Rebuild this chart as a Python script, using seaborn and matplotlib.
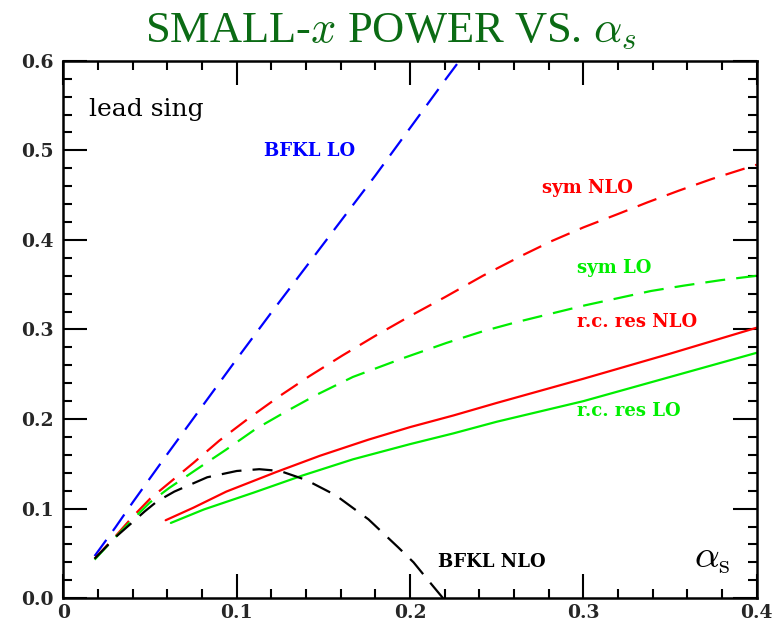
import numpy as np
import pandas as pd
import matplotlib
matplotlib.use("Agg")
import matplotlib.pyplot as plt
from matplotlib.ticker import MultipleLocator
import seaborn as sns

# データ
bfkl_lo_x = [0.018, 0.03, 0.04, 0.06, 0.08, 0.1, 0.12, 0.14, 0.16, 0.18, 0.2, 0.22, 0.23]
bfkl_lo_y = [0.047, 0.079, 0.107, 0.161, 0.214, 0.267, 0.319, 0.37, 0.421, 0.472, 0.525, 0.578, 0.604]

sym_nlo_x = [0.018, 0.03, 0.04, 0.05, 0.06, 0.075, 0.09, 0.107, 0.125, 0.142, 0.161, 0.18,
             0.2, 0.22, 0.242, 0.265, 0.282, 0.3, 0.32, 0.337, 0.355, 0.374, 0.4]
sym_nlo_y = [0.044, 0.069, 0.091, 0.111, 0.127, 0.151, 0.176, 0.201, 0.226, 0.248, 0.271, 0.293,
             0.315, 0.336, 0.36, 0.383, 0.399, 0.414, 0.429, 0.442, 0.455, 0.468, 0.484]

sym_lo_x = [0.018, 0.03, 0.04, 0.05, 0.061, 0.077, 0.094, 0.111, 0.129, 0.146, 0.167, 0.196,
            0.221, 0.242, 0.261, 0.282, 0.301, 0.32, 0.339, 0.358, 0.379, 0.4]
sym_lo_y = [0.043, 0.068, 0.088, 0.107, 0.123, 0.144, 0.166, 0.189, 0.209, 0.227, 0.247, 0.268,
            0.285, 0.298, 0.308, 0.318, 0.327, 0.335, 0.343, 0.349, 0.355, 0.36]

rc_nlo_x = [0.059, 0.075, 0.094, 0.123, 0.148, 0.176, 0.2, 0.225, 0.25, 0.3, 0.35, 0.4]
rc_nlo_y = [0.087, 0.101, 0.119, 0.141, 0.159, 0.177, 0.191, 0.204, 0.218, 0.245, 0.273, 0.302]

rc_lo_x = [0.062, 0.081, 0.11, 0.138, 0.167, 0.2, 0.225, 0.25, 0.3, 0.35, 0.4]
rc_lo_y = [0.084, 0.099, 0.118, 0.137, 0.155, 0.172, 0.184, 0.197, 0.22, 0.247, 0.274]

bfkl_nlo_x = [0.018, 0.03, 0.04, 0.047, 0.054, 0.064, 0.083, 0.1, 0.113, 0.125, 0.14, 0.157,
              0.176, 0.193, 0.202, 0.21, 0.219]
bfkl_nlo_y = [0.044, 0.068, 0.085, 0.097, 0.108, 0.119, 0.135, 0.142, 0.144, 0.142, 0.132, 0.115,
              0.088, 0.057, 0.04, 0.021, 0.0]

x_ticks = [0, 0.1, 0.2, 0.3, 0.4]
x_labels = ["0", "0.1", "0.2", "0.3", "0.4"]
y_ticks = [0, 0.1, 0.2, 0.3, 0.4, 0.5, 0.6]
y_labels = ["0.0", "0.1", "0.2", "0.3", "0.4", "0.5", "0.6"]

# 設定
sns.set_style("ticks")
plt.rcParams['font.family'] = ['DejaVu Serif']
plt.rcParams['mathtext.fontset'] = 'cm'

fig = plt.figure(figsize=(7.73, 6.27), dpi=100)
ax = fig.add_axes([0.082, 0.046, 0.897, 0.857])

dash = (0, (9, 5))
curves = [
    (bfkl_lo_x, bfkl_lo_y, '#0000ff', dash),
    (sym_nlo_x, sym_nlo_y, '#ff0000', dash),
    (sym_lo_x, sym_lo_y, '#00ee00', dash),
    (rc_nlo_x, rc_nlo_y, '#ff0000', '-'),
    (rc_lo_x, rc_lo_y, '#00ee00', '-'),
    (bfkl_nlo_x, bfkl_nlo_y, '#000000', dash),
]
for xs, ys, col, ls in curves:
    df = pd.DataFrame({'a': xs, 'p': ys})
    sns.lineplot(data=df, x='a', y='p', ax=ax, color=col, linestyle=ls,
                 linewidth=1.6, sort=False, estimator=None)

ax.set_xlim(0, 0.4)
ax.set_ylim(0, 0.6)
ax.set_xlabel('')
ax.set_ylabel('')
ax.set_xticks(x_ticks, x_labels)
ax.set_yticks(y_ticks, y_labels)
ax.xaxis.set_minor_locator(MultipleLocator(0.02))
ax.yaxis.set_minor_locator(MultipleLocator(0.02))
ax.tick_params(which='both', direction='in', top=True, right=True, width=1.5, color='black')
ax.tick_params(which='major', length=17)
ax.tick_params(which='minor', length=6.5)
ax.tick_params(axis='x', which='major', pad=4)
ax.tick_params(axis='y', which='major', pad=7)
for lab in ax.get_xticklabels() + ax.get_yticklabels():
    lab.set_fontweight('bold')
    lab.set_fontsize(13.5)
for sp in ax.spines.values():
    sp.set_linewidth(1.8)
    sp.set_color('black')

# ラベル
lbl = dict(fontsize=13, fontweight='bold', va='center', ha='left')
ax.text(0.015, 0.546, 'lead sing', fontsize=18, va='center', ha='left', color='black')
ax.text(0.1156, 0.499, 'BFKL LO', color='#0000ff', **lbl)
ax.text(0.2763, 0.458, 'sym NLO', color='#ff0000', **lbl)
ax.text(0.2964, 0.369, 'sym LO', color='#00ee00', **lbl)
ax.text(0.2964, 0.308, 'r.c. res NLO', color='#ff0000', **lbl)
ax.text(0.2964, 0.209, 'r.c. res LO', color='#00ee00', **lbl)
ax.text(0.2162, 0.040, 'BFKL NLO', color='black', **lbl)
ax.text(0.3637, 0.045, r'$\alpha_{\rm s}$', fontsize=28, va='center', ha='left', color='black')

fig.text(0.506, 0.950, r'SMALL-$x$ POWER VS. $\alpha_s$', fontsize=32, color='#0b6b14',
         ha='center', va='center', family=['Liberation Serif', 'DejaVu Serif'])

fig.savefig('out.png', dpi=100)
